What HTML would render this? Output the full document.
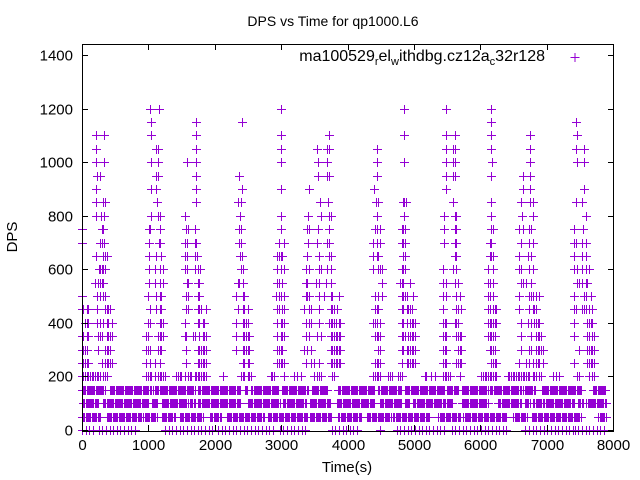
<!DOCTYPE html>
<html><head><meta charset="utf-8"><style>
body{margin:0;background:#fff;}
svg{display:block;font-family:"Liberation Sans",sans-serif;}
</style></head><body>
<svg id="chart" width="640" height="480" viewBox="0 0 640 480" xmlns="http://www.w3.org/2000/svg">
<rect width="640" height="480" fill="#fff"/>
<text x="333" y="26" font-size="14" text-anchor="middle">DPS vs Time for qp1000.L6</text>
<text x="347" y="472" font-size="15" text-anchor="middle">Time(s)</text>
<text transform="translate(17,237) rotate(-90)" font-size="15" text-anchor="middle">DPS</text>
<g id="marks"></g>
<g id="axes"></g>
<g>
<text x="545" y="61" font-size="16" text-anchor="end">ma100529<tspan font-size="11" dy="4">r</tspan><tspan dy="-4">el</tspan><tspan font-size="11" dy="4">w</tspan><tspan dy="-4">ithdbg.cz12a</tspan><tspan font-size="11" dy="4">c</tspan><tspan dy="-4">32r128</tspan></text>
<path d="M570.5 57.5h9M575 53v9" stroke="#9400d3" stroke-width="1" fill="none"/>
</g>
</svg>
<script>
const xTicks=[0,1000,2000,3000,4000,5000,6000,7000,8000];
const yTicks=[0,200,400,600,800,1000,1200,1400];
const levels=[1200,1150,1100,1050,1000,950,900,850,800,750,700,650,600,550,500,450,400,350,300,250,200];
const times1200=[1020,1160,2995,4855,5490,6165];
const times1150=[1040,1720,2405,6165,7450];
const times1100=[205,335,1040,1720,2995,3725,4855,5490,5620,6165,6750,7455];
const times1050=[205,1110,1145,1720,2995,3545,3695,3720,4450,5490,5590,5615,6165,6750,7450,7565];
const times1000=[205,335,1040,1145,1585,1720,2995,3555,3695,4440,4855,5490,5590,5620,6175,6750,7455,7565];
const times950=[225,270,1110,1145,1720,2370,3560,3695,3725,4440,5490,5590,5620,6165,6640,6750];
const times900=[215,1040,1120,1720,2405,2995,3425,4405,5490,6640,6750,7565];
const times850=[215,310,345,1130,1720,2345,2395,3580,3705,4425,4465,4830,4855,4880,5590,6165,6615,6750,6790,7450,7540];
const times800=[215,285,335,1040,1145,1175,1550,2385,2995,3405,3595,3720,3745,4440,4855,5450,5615,5640,6165,6625,6790,7600];
const times750=[0,305,315,1005,1025,1170,1570,1595,1705,2365,2395,2995,3395,3420,3560,3725,4420,4440,4490,4815,4830,4865,5450,5615,5630,6165,6190,6590,6640,6730,6765,7415,7550];
const times700=[0,270,305,330,1005,1155,1175,1545,1585,1695,1720,2370,2395,2970,3045,3410,3545,3695,3720,4390,4440,4490,4815,4840,4865,5450,5615,5630,6140,6165,6615,6740,6790,7415,7440,7540,7590];
const times650=[205,315,345,370,1005,1120,1185,1550,1585,1705,1735,2380,2410,2945,2970,2995,3020,3395,3570,3720,3745,4390,4440,4465,4840,4865,5615,5640,6140,6165,6190,6590,6715,6765,7415,7540,7590];
const times600=[255,270,295,320,345,1005,1095,1170,1220,1545,1585,1705,1745,1785,2395,2420,2945,2995,3045,3380,3420,3570,3595,3695,3745,4390,4465,4490,4515,4815,4840,4865,5440,5590,5640,6115,6190,6590,6615,6740,6790,7415,7465,7540,7590,7640];
const times550=[195,245,270,295,320,1005,1095,1170,1220,1580,1595,1745,1770,2345,2370,2420,2935,2970,3020,3370,3395,3520,3570,3670,3745,4515,4790,4815,4840,4940,5440,5490,5615,5665,6115,6140,6190,6615,6640,6690,6765,7465,7490,7540,7590,7615];
const times500=[0,220,270,320,345,995,1120,1170,1195,1570,1595,1745,1770,2320,2420,2435,2920,2970,2995,3045,3370,3395,3420,3570,3645,3745,3770,3870,4415,4465,4515,4815,4840,4865,4890,4990,5440,5490,5640,5690,6115,6140,6190,6590,6740,6765,6790,6840,6890,7415,7565,7590,7665];
const times450=[0,20,70,95,220,345,370,395,420,1020,1120,1170,1195,1570,1595,1745,1770,1795,1870,2345,2420,2445,2495,2945,2970,3020,3045,3345,3420,3445,3570,3745,3770,3795,3845,4415,4440,4465,4815,4840,4890,4915,4940,4965,5440,5640,5665,5715,6115,6140,6190,6215,6240,6590,6740,6790,6815,6840,7415,7440,7540,7565,7590,7640,7690];
const times400=[45,70,95,220,270,320,370,395,445,995,1020,1170,1195,1220,1545,1745,1770,1820,1845,2320,2420,2445,2470,2495,2945,2995,3020,3045,3370,3420,3445,3570,3720,3745,3770,3795,3820,3870,3890,4390,4415,4440,4490,4815,4840,4890,4940,4965,4990,5015,5440,5465,5490,5615,5640,5665,6115,6140,6165,6190,6215,6240,6615,6715,6765,6815,6840,6865,6890,7415,7615,7640,7665,7690];
const times350=[0,20,70,95,245,270,295,370,395,420,445,970,995,1145,1170,1195,1220,1545,1570,1670,1695,1770,1820,1845,1870,2320,2420,2445,2470,2495,2520,2945,2995,3020,3045,3370,3420,3545,3595,3745,3770,3795,3820,3845,3870,3890,4415,4440,4465,4490,4815,4840,4865,4915,4940,4965,4990,5015,5440,5465,5490,5640,5665,5690,5715,6115,6140,6165,6190,6215,6615,6765,6840,6865,6890,6915,7415,7615,7640,7690,7715];
const times300=[0,20,45,70,245,345,370,395,420,970,995,1020,1145,1170,1195,1570,1745,1770,1795,1820,1845,1870,2320,2420,2445,2470,2495,2520,2945,2970,2995,3020,3345,3395,3445,3745,3770,3795,3820,3845,3870,3890,4465,4490,4815,4840,4890,4915,4940,4965,4990,5015,5440,5465,5490,5665,5690,5715,6140,6165,6190,6215,6615,6740,6765,6840,6865,6890,6915,6940,7490,7615,7640,7665,7690,7715];
const times250=[0,20,45,70,95,295,345,370,395,420,445,970,1020,1095,1170,1570,1745,1770,1795,1820,1845,1870,2420,2445,2495,2520,2945,2970,2995,3020,3045,3370,3445,3495,3570,3745,3770,3795,3820,3845,3870,3890,4415,4440,4465,4490,4815,4890,4915,4940,4965,4990,5015,5440,5465,5490,5640,5665,5690,5715,6165,6190,6215,6240,6590,6690,6740,6790,6840,6865,6890,6940,7415,7615,7640,7665,7690,7715];
const times200=[0,20,45,70,95,120,145,170,195,220,245,270,320,345,370,970,995,1020,1045,1095,1145,1170,1195,1220,1245,1420,1445,1470,1495,1545,1595,1620,1645,1695,1720,1745,1770,1795,1820,1845,1870,2120,2395,2420,2445,2495,2520,2545,2845,2870,2895,3045,3195,3245,3295,3495,3545,3570,3595,3770,3795,4390,4415,4440,4465,4490,4615,4640,4665,4765,4790,4815,5165,5190,5265,5315,5440,5465,5490,5515,5540,5690,6015,6040,6065,6090,6115,6140,6165,6190,6215,6240,6415,6440,6465,6490,6515,6540,6565,6590,6615,6640,6665,6690,6715,6740,6790,6815,6840,6890,6915,7090,7140,7190,7465,7490,7640,7690,7715];
const sparseTimes=[times1200,times1150,times1100,times1050,times1000,times950,times900,times850,times800,times750,times700,times650,times600,times550,times500,times450,times400,times350,times300,times250,times200];
const denseLevels=[150,100,50,0];
const runs150=[[0,350],[420,1000],[1030,1080],[1100,1700],[1750,2380],[2450,2500],[2550,2960],[3010,3410],[3460,3710],[3860,4415],[4465,4815],[4865,5470],[5495,5670],[5720,6120],[6150,6625],[6650,6825],[6925,7525],[7700,7900]];
const runs100=[[20,250],[320,1000],[1050,1150],[1200,1600],[1630,1700],[1750,2380],[2500,2980],[3030,3380],[3430,3740],[3840,4415],[4490,4815],[4865,4940],[4990,5470],[5495,5595],[5720,6120],[6270,6625],[6675,6750],[6800,6925],[6950,7425],[7475,7550],[7600,7900]];
const runs50=[[0,270],[370,900],[925,1125],[1200,1400],[1475,1830],[1930,2100],[2180,2750],[2800,3410],[3430,3760],[3860,4215],[4290,4665],[4690,5245],[5370,5695],[5745,6400],[6500,6700],[6775,7525],[7780,7900]];
const runs0=[[0,200],[250,850],[1250,2000],[2050,2900],[2980,3410],[3760,4190],[4490,4490],[4740,5495],[5570,6420],[6680,7400],[7425,7880]];
const denseRuns=[runs150,runs100,runs50,runs0];
const denseStep=[17,17,18,55];

const L=82,R=613,T=44,B=431;
const xs=t=>L+t*(R-L)/8000;
const ys=v=>430-v*(430-55)/1400;
const NS='http://www.w3.org/2000/svg';
const marks=document.getElementById('marks');
const col='#9400d3';
function plus(t,v){const x=Math.round(xs(t))+0.5,y=Math.round(ys(v))+0.5;return 'M'+(x-4.5)+' '+y+'h9M'+x+' '+(y-4.5)+'v9';}
levels.forEach((lv,i)=>{
  let d='';sparseTimes[i].forEach(t=>{d+=plus(t,lv);});
  const p=document.createElementNS(NS,'path');
  p.setAttribute('d',d);p.setAttribute('stroke',col);p.setAttribute('fill','none');p.setAttribute('stroke-width','1');
  
  
  marks.appendChild(p);
});
denseLevels.forEach((lv,i)=>{
  let d='';denseRuns[i].forEach(r=>{for(let t=r[0];t<=r[1];t+=denseStep[i])d+=plus(t,lv);});
  const p=document.createElementNS(NS,'path');
  p.setAttribute('d',d);p.setAttribute('stroke',col);p.setAttribute('fill','none');p.setAttribute('stroke-width','1');
  
  
  marks.appendChild(p);
});
const axes=document.getElementById('axes');
let ad='M'+(L+0.5)+' '+(T+0.5)+'H'+(R+0.5)+'V'+(B+0.5)+'H'+(L+0.5)+'Z';
xTicks.forEach(v=>{const x=Math.round(xs(v))+0.5;ad+='M'+x+' '+B+'v-6M'+x+' '+T+'v6';
  const tx=document.createElementNS(NS,'text');tx.setAttribute('x',x);tx.setAttribute('y',450);tx.setAttribute('font-size','15');tx.setAttribute('text-anchor','middle');tx.textContent=v;
  
  
  axes.appendChild(tx);});
yTicks.forEach(v=>{const y=Math.round(ys(v))+0.5;ad+='M'+L+' '+y+'h6M'+(R+1)+' '+y+'h-6';
  const tx=document.createElementNS(NS,'text');tx.setAttribute('x',73);tx.setAttribute('y',y+5);tx.setAttribute('font-size','15');tx.setAttribute('text-anchor','end');tx.textContent=v;
  
  
  axes.appendChild(tx);});
const ap=document.createElementNS(NS,'path');ap.setAttribute('d',ad);ap.setAttribute('stroke','#000');ap.setAttribute('fill','none');ap.setAttribute('stroke-width','1');


axes.appendChild(ap);
</script>
</body></html>
